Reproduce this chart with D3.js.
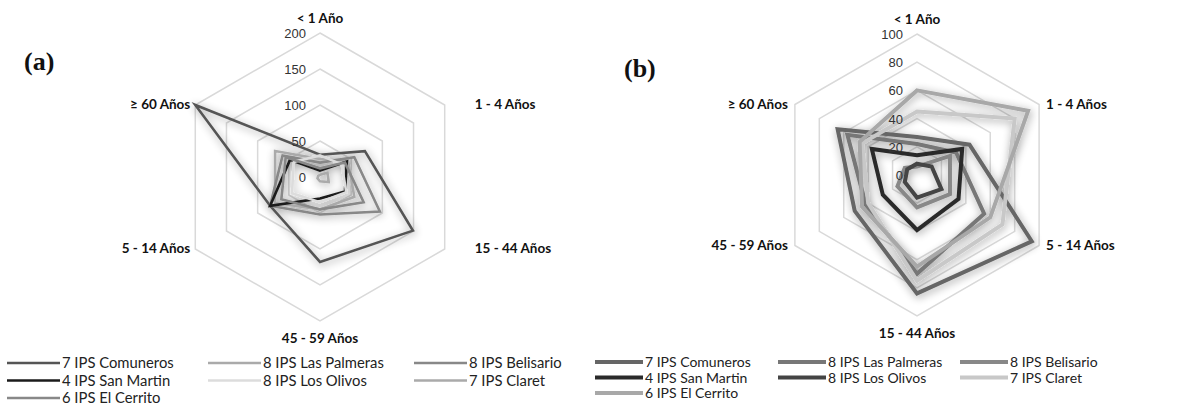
<!DOCTYPE html>
<html>
<head>
<meta charset="utf-8">
<title>Radar IPS</title>
<script src="https://d3js.org/d3.v7.min.js"></script>
<style>
	body { margin: 0; background: #fff; }
	.axislab { font-family: Lato, "Open Sans", sans-serif; font-weight: bold; font-size: 13.5px; fill: #111; }
	.ticklab { font-family: "Liberation Sans", Arial, sans-serif; font-size: 13px; fill: #333; }
	.leg { font-family: Lato, "Open Sans", sans-serif; fill: #222; }
	.panel { font-family: "Liberation Serif", "Times New Roman", serif; font-weight: bold; font-size: 26px; fill: #111; }
</style>
</head>
<body>
<div id="chart"></div>
<script>

// data
var series = ["7 IPS Comuneros", "8 IPS Las Palmeras", "8 IPS Belisario", "4 IPS San Martin",
	"8 IPS Los Olivos", "7 IPS Claret", "6 IPS El Cerrito"];

var axesA = ["< 1 Año", "1 - 4 Años", "15 - 44 Años", "45 - 59 Años", "5 - 14 Años", "≥ 60 Años"];
var ticksA = [0, 50, 100, 150, 200];
var comunerosA = [31, 72, 149, 118, 80, 200];
var palmerasA = [25, 45, 55, 45, 72, 72];
var belisarioA = [20, 55, 96, 52, 80, 60];
var sanMartinA = [9, 43, 40, 30, 80, 48];
var olivosA = [30, 35, 42, 35, 45, 42];
var claretA = [3, 12, 14, 6, 4, 3];
var cerritoA = [12, 40, 70, 45, 62, 55];

var axesB = ["< 1 Año", "1 - 4 Años", "5 - 14 Años", "15 - 44 Años", "45 - 59 Años", "≥ 60 Años"];
var ticksB = [0, 20, 40, 60, 80, 100];
var comunerosB = [27, 43, 94, 84, 51, 65];
var palmerasB = [22, 32, 55, 70, 42, 57];
var belisarioB = [6, 27, 27, 23, 16, 10];
var sanMartinB = [14, 37, 34, 39, 28, 37];
var olivosB = [8, 12, 20, 16, 10, 8];
var claretB = [45, 80, 70, 75, 40, 45];
var cerritoB = [60, 91, 60, 65, 45, 47];

var colorsA = ["#555", "#aaa", "#888", "#1a1a1a", "#dcdcdc", "#aaa", "#888"];
var colorsB = ["#666", "#777", "#888", "#2a2a2a", "#444", "#c8c8c8", "#a8a8a8"];

var svg = d3.select("#chart").append("svg")
	.attr("width", 1193)
	.attr("height", 406);

// soft drop shadow like the spreadsheet effect
var defs = svg.append("defs");
var f = defs.append("filter").attr("id", "shadow")
	.attr("x", "-20%").attr("y", "-20%").attr("width", "140%").attr("height", "140%");
f.append("feGaussianBlur").attr("in", "SourceAlpha").attr("stdDeviation", 4.5).attr("result", "b");
f.append("feOffset").attr("in", "b").attr("dx", 1).attr("dy", 2).attr("result", "o");
f.append("feComponentTransfer").attr("in", "o").attr("result", "s")
	.append("feFuncA").attr("type", "linear").attr("slope", 0.4);
var m = f.append("feMerge");
m.append("feMergeNode").attr("in", "s");
m.append("feMergeNode").attr("in", "SourceGraphic");

function drawRadar(opt) {
	var g = svg.append("g").attr("transform", "translate(" + opt.cx + "," + opt.cy + ")");
	var r = d3.scaleLinear().domain([0, d3.max(opt.ticks)]).range([0, opt.R]);
	var n = opt.axes.length;
	var ang = function (i) { return i * 2 * Math.PI / n; };

	var line = d3.lineRadial()
		.angle(function (d, i) { return ang(i); })
		.radius(function (d) { return r(d); })
		.curve(d3.curveLinearClosed);

	// grid rings
	g.selectAll(".ring")
		.data(opt.ticks.filter(function (t) { return t > 0; }))
		.enter().append("path")
		.attr("d", function (t) { return line(opt.axes.map(function () { return t; })); })
		.attr("fill", "none")
		.attr("stroke", "#d9d9d9")
		.attr("stroke-width", 1.5);

	// series
	var sg = g.append("g").attr("filter", "url(#shadow)");
	opt.values.forEach(function (vals, k) {
		sg.append("path")
			.attr("d", line(vals))
			.attr("fill", "none")
			.attr("stroke", opt.colors[k])
			.attr("stroke-width", opt.sw)
			.attr("stroke-linejoin", "miter");
	});

	// tick labels
	g.selectAll(".ticklab")
		.data(opt.ticks)
		.enter().append("text")
		.attr("class", "ticklab")
		.attr("x", -14)
		.attr("y", function (t) { return -r(t) + 5; })
		.attr("text-anchor", "end")
		.text(function (t) { return t; });

	// axis labels
	opt.axes.forEach(function (a, i) {
		var th = ang(i);
		var sx = Math.sin(th), sy = -Math.cos(th);
		var x = sx * opt.R, y = sy * opt.R;
		var anchor = "middle";
		if (sx > 0.1) { anchor = "start"; x += opt.gapR; y += 4; }
		else if (sx < -0.1) { anchor = "end"; x -= opt.gapL; y += 4; }
		else if (sy < 0) { y -= 10; }
		else { y += 22; }
		g.append("text")
			.attr("class", "axislab")
			.attr("x", x)
			.attr("y", y)
			.attr("text-anchor", anchor)
			.text(a);
	});

	// legend
	var cols = opt.legCols;
	series.forEach(function (s, k) {
		var c = k % 3, row = Math.floor(k / 3);
		var lx = cols[c], ly = opt.legY + row * opt.legDy;
		svg.append("line")
			.attr("x1", lx).attr("x2", lx + opt.legLen)
			.attr("y1", ly).attr("y2", ly)
			.attr("stroke", opt.colors[k])
			.attr("stroke-width", opt.sw);
		svg.append("text")
			.attr("class", "leg")
			.attr("font-size", opt.legFs)
			.attr("x", lx + opt.legLen + 2)
			.attr("y", ly + 5)
			.text(s);
	});

	svg.append("text")
		.attr("class", "panel")
		.attr("x", opt.px).attr("y", opt.py)
		.text(opt.panel);
}

drawRadar({
	cx: 320, cy: 177, R: 144, axes: axesA, ticks: ticksA,
	values: [comunerosA, palmerasA, belisarioA, sanMartinA, olivosA, claretA, cerritoA],
	colors: colorsA, sw: 2.6, gapR: 30, gapL: 5,
	legCols: [7, 208, 414], legY: 363, legDy: 17.5, legLen: 53, legFs: "14.8px",
	panel: "(a)", px: 24, py: 70
});

drawRadar({
	cx: 917, cy: 175, R: 141, axes: axesB, ticks: ticksB,
	values: [comunerosB, palmerasB, belisarioB, sanMartinB, olivosB, claretB, cerritoB],
	colors: colorsB, sw: 4, gapR: 7, gapL: 7,
	legCols: [595, 778, 960], legY: 362, legDy: 15.5, legLen: 48, legFs: "14px",
	panel: "(b)", px: 624, py: 77
});

</script>
</body>
</html>
